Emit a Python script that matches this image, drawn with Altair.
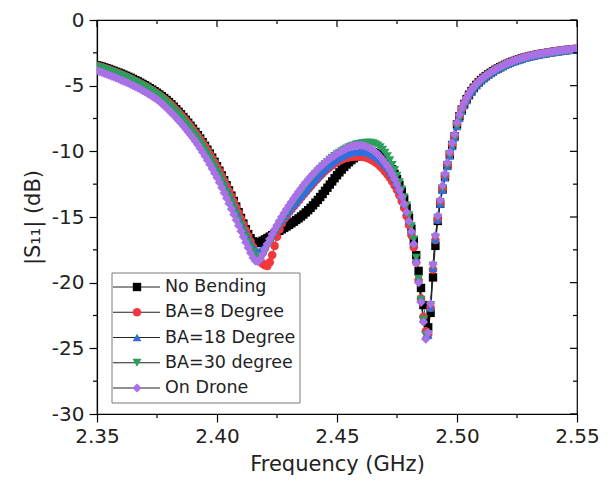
import altair as alt
import pandas as pd

FONT = "DejaVu Sans"

# ---------------- data ----------------
freq = [round(2.35 + 0.001 * i, 3) for i in range(201)]

no_bending = [
    -3.45, -3.50, -3.55, -3.61, -3.67, -3.73, -3.80, -3.87, -3.94, -4.01,
    -4.08, -4.16, -4.24, -4.32, -4.40, -4.49, -4.58, -4.67, -4.77, -4.87,
    -4.97, -5.08, -5.19, -5.30, -5.42, -5.54, -5.67, -5.80, -5.94, -6.09,
    -6.25, -6.42, -6.60, -6.79, -6.98, -7.18, -7.39, -7.60, -7.82, -8.05,
    -8.28, -8.52, -8.77, -9.03, -9.30, -9.58, -9.87, -10.17, -10.48, -10.80,
    -11.13, -11.47, -11.83, -12.20, -12.58, -12.97, -13.37, -13.78, -14.20, -14.63,
    -15.07, -15.50, -15.92, -16.30, -16.62, -16.85, -16.97, -16.98, -16.90, -16.80,
    -16.70, -16.60, -16.49, -16.38, -16.27, -16.16, -16.05, -15.94, -15.83, -15.72,
    -15.60, -15.48, -15.36, -15.23, -15.10, -14.96, -14.81, -14.65, -14.48, -14.30,
    -14.11, -13.91, -13.70, -13.48, -13.25, -13.01, -12.77, -12.53, -12.29, -12.05,
    -11.82, -11.60, -11.39, -11.19, -11.00, -10.83, -10.67, -10.53, -10.41, -10.30,
    -10.21, -10.14, -10.09, -10.06, -10.05, -10.07, -10.12, -10.20, -10.31, -10.45,
    -10.62, -10.83, -11.08, -11.37, -11.71, -12.10, -12.55, -13.06, -13.64, -14.30,
    -15.04, -15.88, -16.82, -17.90, -19.10, -20.40, -21.70, -22.80, -23.40, -22.30,
    -19.60, -17.20, -15.30, -14.00, -12.90, -11.95, -11.05, -10.25, -9.52, -8.86,
    -7.95, -7.33, -6.82, -6.39, -6.02, -5.69, -5.41, -5.16, -4.94, -4.75,
    -4.57, -4.41, -4.27, -4.14, -4.02, -3.90, -3.79, -3.69, -3.59, -3.50,
    -3.41, -3.33, -3.25, -3.18, -3.11, -3.04, -2.98, -2.92, -2.87, -2.82,
    -2.77, -2.73, -2.69, -2.65, -2.61, -2.58, -2.55, -2.52, -2.49, -2.46,
    -2.43, -2.40, -2.38, -2.35, -2.33, -2.30, -2.28, -2.26, -2.24, -2.22,
    -2.20,
]

ba_8 = [
    -3.50, -3.55, -3.60, -3.66, -3.72, -3.78, -3.85, -3.92, -3.99, -4.06,
    -4.14, -4.22, -4.30, -4.38, -4.46, -4.55, -4.64, -4.73, -4.83, -4.93,
    -5.03, -5.14, -5.25, -5.36, -5.48, -5.60, -5.73, -5.86, -6.00, -6.15,
    -6.31, -6.48, -6.66, -6.85, -7.04, -7.24, -7.45, -7.66, -7.88, -8.11,
    -8.34, -8.58, -8.83, -9.09, -9.36, -9.64, -9.93, -10.23, -10.54, -10.86,
    -11.19, -11.54, -11.90, -12.27, -12.65, -13.04, -13.44, -13.85, -14.27, -14.70,
    -15.14, -15.58, -16.02, -16.45, -16.87, -17.27, -17.65, -18.00, -18.30, -18.55,
    -18.68, -18.72, -18.45, -17.90, -17.20, -16.50, -15.95, -15.50, -15.15, -14.88,
    -14.62, -14.40, -14.18, -13.96, -13.74, -13.52, -13.30, -13.08, -12.86, -12.65,
    -12.44, -12.24, -12.04, -11.85, -11.67, -11.50, -11.34, -11.19, -11.05, -10.92,
    -10.81, -10.71, -10.62, -10.55, -10.49, -10.45, -10.42, -10.40, -10.39, -10.39,
    -10.40, -10.43, -10.47, -10.53, -10.61, -10.71, -10.83, -10.97, -11.13, -11.31,
    -11.54, -11.76, -12.01, -12.29, -12.60, -12.95, -13.35, -13.80, -14.32, -14.92,
    -15.60, -16.38, -17.30, -18.45, -19.80, -21.20, -22.60, -23.70, -23.95, -21.90,
    -19.00, -16.75, -15.20, -13.95, -12.85, -11.90, -11.00, -10.20, -9.48, -8.82,
    -7.92, -7.30, -6.79, -6.36, -5.99, -5.67, -5.39, -5.14, -4.92, -4.73,
    -4.56, -4.40, -4.26, -4.13, -4.01, -3.89, -3.78, -3.68, -3.58, -3.49,
    -3.40, -3.32, -3.24, -3.17, -3.10, -3.03, -2.97, -2.91, -2.86, -2.81,
    -2.76, -2.72, -2.68, -2.64, -2.60, -2.57, -2.54, -2.51, -2.48, -2.45,
    -2.42, -2.39, -2.37, -2.34, -2.32, -2.29, -2.27, -2.25, -2.23, -2.21,
    -2.19,
]

ba_18 = [
    -3.45, -3.51, -3.57, -3.63, -3.69, -3.75, -3.82, -3.89, -3.96, -4.03,
    -4.10, -4.18, -4.26, -4.34, -4.42, -4.51, -4.60, -4.69, -4.79, -4.89,
    -4.99, -5.10, -5.21, -5.32, -5.44, -5.56, -5.69, -5.83, -5.98, -6.14,
    -6.31, -6.49, -6.68, -6.87, -7.07, -7.28, -7.49, -7.71, -7.94, -8.17,
    -8.41, -8.66, -8.92, -9.19, -9.47, -9.76, -10.06, -10.37, -10.69, -11.02,
    -11.36, -11.72, -12.09, -12.47, -12.86, -13.26, -13.67, -14.09, -14.52, -14.95,
    -15.38, -15.80, -16.21, -16.60, -16.96, -17.28, -17.52, -17.62, -17.55, -17.42,
    -17.25, -16.92, -16.60, -16.29, -16.00, -15.72, -15.46, -15.20, -14.96, -14.73,
    -14.51, -14.29, -14.07, -13.85, -13.63, -13.41, -13.19, -12.97, -12.75, -12.53,
    -12.32, -12.11, -11.90, -11.70, -11.51, -11.33, -11.16, -11.00, -10.85, -10.71,
    -10.58, -10.46, -10.36, -10.27, -10.19, -10.13, -10.08, -10.05, -10.03, -10.02,
    -10.02, -10.03, -10.06, -10.11, -10.18, -10.27, -10.38, -10.51, -10.66, -10.84,
    -11.04, -11.27, -11.53, -11.82, -12.15, -12.52, -12.94, -13.42, -13.96, -14.57,
    -15.26, -16.04, -16.95, -18.20, -19.70, -21.20, -22.70, -24.00, -24.00, -21.90,
    -18.90, -16.70, -15.20, -14.00, -12.95, -12.00, -11.15, -10.35, -9.62, -8.95,
    -8.10, -7.47, -6.94, -6.50, -6.12, -5.78, -5.49, -5.23, -5.00, -4.80,
    -4.62, -4.46, -4.31, -4.18, -4.06, -3.94, -3.83, -3.73, -3.63, -3.54,
    -3.45, -3.37, -3.29, -3.22, -3.15, -3.08, -3.02, -2.96, -2.91, -2.86,
    -2.81, -2.77, -2.73, -2.69, -2.65, -2.62, -2.59, -2.56, -2.53, -2.50,
    -2.47, -2.44, -2.42, -2.39, -2.37, -2.34, -2.32, -2.30, -2.28, -2.26,
    -2.24,
]

ba_30 = [
    -3.55, -3.61, -3.67, -3.73, -3.79, -3.86, -3.93, -4.00, -4.07, -4.14,
    -4.22, -4.30, -4.38, -4.46, -4.55, -4.64, -4.73, -4.82, -4.92, -5.02,
    -5.12, -5.23, -5.34, -5.46, -5.58, -5.70, -5.84, -5.99, -6.15, -6.32,
    -6.49, -6.67, -6.86, -7.05, -7.25, -7.46, -7.67, -7.89, -8.12, -8.35,
    -8.59, -8.84, -9.10, -9.37, -9.65, -9.94, -10.24, -10.55, -10.87, -11.20,
    -11.54, -11.90, -12.28, -12.67, -13.07, -13.48, -13.90, -14.33, -14.76, -15.20,
    -15.64, -16.08, -16.51, -16.92, -17.30, -17.65, -17.95, -18.15, -18.20, -18.02,
    -17.70, -17.30, -16.92, -16.56, -16.22, -15.89, -15.57, -15.26, -14.96, -14.67,
    -14.38, -14.10, -13.84, -13.58, -13.33, -13.08, -12.84, -12.60, -12.37, -12.15,
    -11.94, -11.73, -11.53, -11.34, -11.15, -10.97, -10.80, -10.64, -10.49, -10.35,
    -10.22, -10.10, -9.99, -9.88, -9.78, -9.69, -9.61, -9.54, -9.48, -9.43,
    -9.39, -9.36, -9.34, -9.33, -9.34, -9.38, -9.45, -9.55, -9.69, -9.87,
    -10.10, -10.37, -10.68, -11.03, -11.42, -11.86, -12.35, -12.89, -13.48, -14.12,
    -14.85, -15.70, -16.70, -18.10, -19.70, -21.30, -22.80, -24.00, -23.90, -21.70,
    -18.70, -16.55, -15.05, -13.85, -12.80, -11.88, -11.04, -10.26, -9.56, -8.92,
    -8.05, -7.45, -6.94, -6.51, -6.14, -5.81, -5.52, -5.27, -5.05, -4.85,
    -4.67, -4.51, -4.36, -4.23, -4.10, -3.98, -3.87, -3.77, -3.67, -3.58,
    -3.49, -3.41, -3.33, -3.26, -3.19, -3.12, -3.06, -3.00, -2.95, -2.90,
    -2.85, -2.81, -2.77, -2.73, -2.69, -2.66, -2.63, -2.60, -2.57, -2.54,
    -2.51, -2.48, -2.46, -2.43, -2.41, -2.38, -2.36, -2.34, -2.32, -2.30,
    -2.28,
]

on_drone = [
    -3.85, -3.92, -3.99, -4.06, -4.13, -4.20, -4.27, -4.34, -4.41, -4.49,
    -4.57, -4.65, -4.73, -4.81, -4.90, -4.99, -5.08, -5.17, -5.27, -5.37,
    -5.47, -5.58, -5.69, -5.81, -5.93, -6.05, -6.20, -6.36, -6.52, -6.70,
    -6.88, -7.06, -7.25, -7.45, -7.65, -7.86, -8.07, -8.29, -8.52, -8.75,
    -8.99, -9.24, -9.50, -9.78, -10.07, -10.37, -10.68, -11.00, -11.33, -11.66,
    -12.00, -12.38, -12.77, -13.17, -13.57, -13.98, -14.39, -14.81, -15.23, -15.66,
    -16.09, -16.52, -16.94, -17.35, -17.74, -18.10, -18.35, -18.40, -18.20, -17.85,
    -17.45, -17.05, -16.67, -16.30, -15.95, -15.62, -15.30, -14.99, -14.69, -14.40,
    -14.12, -13.85, -13.59, -13.34, -13.08, -12.83, -12.59, -12.36, -12.14, -11.93,
    -11.73, -11.54, -11.36, -11.18, -11.01, -10.85, -10.70, -10.56, -10.43, -10.30,
    -10.18, -10.07, -9.97, -9.87, -9.78, -9.70, -9.63, -9.58, -9.55, -9.54,
    -9.55, -9.58, -9.63, -9.70, -9.80, -9.92, -10.06, -10.23, -10.42, -10.63,
    -10.87, -11.13, -11.42, -11.74, -12.10, -12.50, -12.95, -13.45, -14.00, -14.62,
    -15.32, -16.10, -17.05, -18.50, -20.00, -21.50, -23.00, -24.30, -23.80, -21.60,
    -18.60, -16.40, -14.90, -13.70, -12.60, -11.70, -10.85, -10.05, -9.35, -8.70,
    -7.80, -7.20, -6.70, -6.28, -5.92, -5.60, -5.33, -5.09, -4.88, -4.69,
    -4.52, -4.37, -4.23, -4.10, -3.98, -3.87, -3.76, -3.66, -3.56, -3.47,
    -3.38, -3.30, -3.22, -3.15, -3.08, -3.01, -2.95, -2.89, -2.84, -2.79,
    -2.74, -2.70, -2.66, -2.62, -2.58, -2.55, -2.52, -2.49, -2.46, -2.43,
    -2.40, -2.37, -2.35, -2.32, -2.30, -2.27, -2.25, -2.23, -2.21, -2.19,
    -2.17,
]

series_names = ["No Bending", "BA=8 Degree", "BA=18 Degree", "BA=30 degree", "On Drone"]
series_values = [no_bending, ba_8, ba_18, ba_30, on_drone]
series_colors = ["#000000", "#f2383a", "#2f6fdf", "#2c9f5c", "#a971e6"]
series_shapes = ["square", "circle", "triangle-up", "triangle-down", "diamond"]
series_sizes = [70, 85, 95, 95, 115]

x_major = [2.35, 2.40, 2.45, 2.50, 2.55]
x_minor = [2.375, 2.425, 2.475, 2.525]
y_major = [-30, -25, -20, -15, -10, -5, 0]
y_minor = [-27.5, -22.5, -17.5, -12.5, -7.5, -2.5]

rows = []
for k, (name, vals) in enumerate(zip(series_names, series_values)):
    for f, v in zip(freq, vals):
        rows.append({"freq": f, "s11": v, "series": name, "k": k})
df = pd.DataFrame(rows)

W, H = 480, 394

xs = alt.Scale(domain=[2.35, 2.55], nice=False, zero=False)
ys = alt.Scale(domain=[-30, 0], nice=False, zero=False)

x_axis = alt.Axis(
    values=x_major, format=".2f", title="Frequency (GHz)", grid=False,
    labelFont=FONT, labelFontSize=20, labelColor="#222", labelFlush=False,
    labelOverlap=False, labelPadding=4, tickSize=8, tickColor="black",
    tickWidth=1.2, domainColor="black", domainWidth=1.2,
    titleFont=FONT, titleFontSize=21, titleFontWeight="normal",
    titleColor="#222", titlePadding=7,
)
y_axis = alt.Axis(
    values=y_major, title="|S₁₁| (dB)", grid=False,
    labelExpr="datum.value < 0 ? '-' + abs(datum.value) : datum.label",
    labelFont=FONT, labelFontSize=20, labelColor="#222", labelFlush=False,
    labelOverlap=False, labelPadding=5, tickSize=8, tickColor="black",
    tickWidth=1.2, domainColor="black", domainWidth=1.2,
    titleFont=FONT, titleFontSize=21, titleFontWeight="normal",
    titleColor="#222", titlePadding=8,
)

X = alt.X("freq:Q", scale=xs, axis=x_axis)
Y = alt.Y("s11:Q", scale=ys, axis=y_axis)

color_enc = alt.Color("series:N", scale=alt.Scale(domain=series_names, range=series_colors), legend=None)
shape_enc = alt.Shape("series:N", scale=alt.Scale(domain=series_names, range=series_shapes), legend=None)
size_enc = alt.Size("k:O", scale=alt.Scale(domain=[0, 1, 2, 3, 4], range=series_sizes), legend=None)

lines = alt.Chart(df).mark_line(color="#222", strokeWidth=0.8, clip=True).encode(
    x=X, y=Y, detail="series:N", order="freq:Q"
)

points = alt.Chart(df).mark_point(filled=True, opacity=1, clip=True).encode(
    x=X, y=Y, color=color_enc, shape=shape_enc, size=size_enc, order=alt.Order("k:Q"),
)

# minor / mirrored ticks
xmaj_df = pd.DataFrame({"freq": x_major})
xmin_df = pd.DataFrame({"freq": x_minor})
ymaj_df = pd.DataFrame({"s11": y_major})
ymin_df = pd.DataFrame({"s11": y_minor})
tick_style = dict(color="black", strokeWidth=1.2)

bottom_minor = alt.Chart(xmin_df).mark_rule(**tick_style).encode(x=X, y=alt.value(H), y2=alt.value(H + 4))
left_minor = alt.Chart(ymin_df).mark_rule(**tick_style).encode(y=Y, x=alt.value(0), x2=alt.value(-4))
top_major = alt.Chart(xmaj_df).mark_rule(**tick_style).encode(x=X, y=alt.value(0), y2=alt.value(7))
top_minor = alt.Chart(xmin_df).mark_rule(**tick_style).encode(x=X, y=alt.value(0), y2=alt.value(4))
right_major = alt.Chart(ymaj_df).mark_rule(**tick_style).encode(y=Y, x=alt.value(W - 7), x2=alt.value(W))
right_minor = alt.Chart(ymin_df).mark_rule(**tick_style).encode(y=Y, x=alt.value(W - 4), x2=alt.value(W))

main = alt.layer(lines, points, bottom_minor, left_minor, top_major, top_minor, right_major, right_minor)

# legend (boxed, inside the plot, lower left): line + marker + label per series
leg_df = pd.DataFrame({"series": series_names, "k": list(range(len(series_names)))})
LY = alt.Y("series:N", axis=None,
           scale=alt.Scale(type="point", domain=series_names, range=[267, 368], padding=0))

leg_box = alt.Chart(pd.DataFrame({"box": [0]})).mark_rect(
    fillOpacity=0, stroke="#7a7a7a", strokeWidth=1
).encode(x=alt.value(15), x2=alt.value(203), y=alt.value(253), y2=alt.value(383))
leg_lines = alt.Chart(leg_df).mark_rule(color="#222", strokeWidth=1.2).encode(
    y=LY, x=alt.value(16), x2=alt.value(63)
)
leg_marks = alt.Chart(leg_df).mark_point(filled=True, opacity=1).encode(
    y=LY, x=alt.value(40), color=color_enc, shape=shape_enc, size=size_enc
)
leg_text = alt.Chart(leg_df).mark_text(
    align="left", baseline="middle", font=FONT, fontSize=17.5, color="#222"
).encode(y=LY, x=alt.value(68), text="series:N")

legend = alt.layer(leg_box, leg_lines, leg_marks, leg_text)

chart = (
    alt.layer(main, legend)
    .resolve_scale(y="independent")
    .properties(
        width=W, height=H,
        autosize=alt.AutoSizeParams(type="none"),
        padding={"left": 97, "top": 20, "right": 36, "bottom": 69},
        background="white",
    )
    .configure_view(stroke="black", strokeWidth=1.2)
)

chart.save("out.html", embed_options={"renderer": "svg", "actions": False})
